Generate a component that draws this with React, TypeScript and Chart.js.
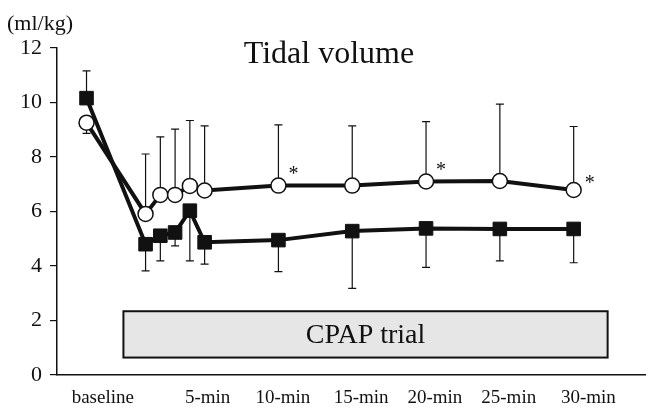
import React, { useEffect, useRef } from "react";
import { Chart, registerables } from "chart.js";

Chart.register(...registerables);

// time (minutes); baseline placed before the trial start
const minutes = [-3, 1, 2, 3, 4, 5, 10, 15, 20, 25, 30];

// open circles
const circleMean = [9.26, 5.91, 6.61, 6.61, 6.94, 6.77, 6.95, 6.95, 7.1, 7.12, 6.79];
const circleSD = [0.39, 2.2, 2.13, 2.41, 2.4, 2.37, 2.23, 2.19, 2.2, 2.82, 2.33];
const circleErrDir = [-1, 1, 1, 1, 1, 1, 1, 1, 1, 1, 1];
const circleStars = [false, false, false, false, false, false, true, false, true, false, true];

// filled squares
const squareMean = [10.16, 4.8, 5.11, 5.23, 6.03, 4.87, 4.95, 5.28, 5.38, 5.36, 5.36];
const squareSD = [1.0, 0.98, 0.92, 0.49, 1.84, 0.8, 1.16, 2.1, 1.43, 1.17, 1.24];
const squareErrDir = [1, -1, -1, -1, -1, -1, -1, -1, -1, -1, -1];

// x tick labels and their positions (minutes)
const tickLabels = ["baseline", "5-min", "10-min", "15-min", "20-min", "25-min", "30-min"];
const tickPositions = [-1.9, 5.2, 10.3, 15.6, 20.6, 25.6, 31];

// CPAP trial box (x in minutes, y in ml/kg)
const cpapX = [-0.5, 32.3];
const cpapY = [0.64, 2.34];
const cpapLabel = "CPAP trial";

const titleText = "Tidal volume";
const unitText = "(ml/kg)";

const SERIF = '"Liberation Serif", "Times New Roman", serif';

export default function App() {
  const ref = useRef<HTMLCanvasElement | null>(null);

  useEffect(() => {
    if (!ref.current) return;

    const overlay = {
      id: "overlay",
      beforeDatasetsDraw(chart: any) {
        const { ctx } = chart;
        const xs = chart.scales.x;
        const ys = chart.scales.y;
        // CPAP box
        const x0 = xs.getPixelForValue(cpapX[0]);
        const x1 = xs.getPixelForValue(cpapX[1]);
        const y0 = ys.getPixelForValue(cpapY[1]);
        const y1 = ys.getPixelForValue(cpapY[0]);
        ctx.save();
        ctx.fillStyle = "#e6e6e6";
        ctx.fillRect(x0, y0, x1 - x0, y1 - y0);
        ctx.strokeStyle = "#111";
        ctx.lineWidth = 2;
        ctx.strokeRect(x0, y0, x1 - x0, y1 - y0);
        ctx.fillStyle = "#111";
        ctx.font = `28px ${SERIF}`;
        ctx.textAlign = "center";
        ctx.textBaseline = "middle";
        ctx.fillText(cpapLabel, (x0 + x1) / 2, (y0 + y1) / 2 + 1);

        // error bars
        ctx.strokeStyle = "#111";
        ctx.lineWidth = 1.2;
        const drawErr = (means: number[], sd: number[], dir: number[]) => {
          means.forEach((m, i) => {
            const px = xs.getPixelForValue(minutes[i]);
            const pa = ys.getPixelForValue(m);
            const pb = ys.getPixelForValue(m + dir[i] * sd[i]);
            ctx.beginPath();
            ctx.moveTo(px, pa);
            ctx.lineTo(px, pb);
            ctx.moveTo(px - 4, pb);
            ctx.lineTo(px + 4, pb);
            ctx.stroke();
          });
        };
        drawErr(squareMean, squareSD, squareErrDir);
        drawErr(circleMean, circleSD, circleErrDir);
        ctx.restore();
      },
      afterDatasetsDraw(chart: any) {
        const { ctx, chartArea } = chart;
        const xs = chart.scales.x;
        const ys = chart.scales.y;
        ctx.save();
        ctx.fillStyle = "#111";
        ctx.font = `20px ${SERIF}`;
        ctx.textAlign = "center";
        ctx.textBaseline = "middle";
        circleMean.forEach((m, i) => {
          if (!circleStars[i]) return;
          const px = xs.getPixelForValue(minutes[i]);
          const py = ys.getPixelForValue(m);
          const last = i === circleMean.length - 1;
          ctx.fillText("*", px + (last ? 16 : 15), py + (last ? -6 : -11));
        });
        // title
        ctx.font = `32px ${SERIF}`;
        ctx.fillText(titleText, chartArea.left + 272, chartArea.top + 7);
        // unit
        ctx.font = `22px ${SERIF}`;
        ctx.textAlign = "left";
        ctx.fillText(unitText, 7, 24);
        ctx.restore();
      },
    };

    const chart = new Chart(ref.current, {
      type: "line",
      data: {
        datasets: [
          {
            label: "squares",
            data: minutes.map((x, i) => ({ x, y: squareMean[i] })),
            borderColor: "#111",
            borderWidth: 4,
            backgroundColor: "#111",
            pointStyle: "rect",
            pointRadius: 9.6,
            pointBorderWidth: 1,
            pointBorderColor: "#111",
            pointBackgroundColor: "#111",
            tension: 0,
          },
          {
            label: "circles",
            data: minutes.map((x, i) => ({ x, y: circleMean[i] })),
            borderColor: "#111",
            borderWidth: 4,
            backgroundColor: "#fff",
            pointStyle: "circle",
            pointRadius: 7.5,
            pointBorderWidth: 1.5,
            pointBorderColor: "#111",
            pointBackgroundColor: "#fff",
            tension: 0,
          },
        ],
      },
      options: {
        animation: false,
        responsive: true,
        maintainAspectRatio: false,
        layout: { autoPadding: false, padding: { top: 48, right: 0, bottom: 0, left: 0 } },
        plugins: {
          legend: { display: false },
          tooltip: { enabled: false },
          title: { display: false },
        },
        scales: {
          x: {
            type: "linear",
            min: -5,
            max: 34.9,
            afterFit: (s: any) => {
              s.height = 33;
              s.paddingLeft = 0;
              s.paddingRight = 0;
            },
            afterBuildTicks: (s: any) => {
              s.ticks = tickPositions.map((v) => ({ value: v }));
            },
            grid: { display: true, drawOnChartArea: false, drawTicks: false },
            border: { display: true, color: "#111", width: 1.5 },
            ticks: {
              autoSkip: false,
              maxRotation: 0,
              padding: 12,
              color: "#111",
              font: { family: SERIF, size: 19 },
              callback: (_v: any, i: number) => tickLabels[i],
            },
          },
          y: {
            min: 0,
            max: 12,
            afterFit: (s: any) => {
              s.width = 57;
              s.paddingTop = 0;
              s.paddingBottom = 0;
            },
            grid: {
              drawOnChartArea: false,
              drawTicks: true,
              tickLength: 7,
              color: "#111",
              lineWidth: 1.2,
            },
            border: { display: true, color: "#111", width: 1.5 },
            ticks: {
              stepSize: 2,
              padding: 8,
              color: "#111",
              font: { family: SERIF, size: 22 },
            },
          },
        },
      },
      plugins: [overlay],
    });

    return () => chart.destroy();
  }, []);

  return (
    <div style={{ position: "absolute", left: 0, top: 0, width: 646, height: 408, background: "#fff" }}>
      <canvas ref={ref} />
    </div>
  );
}
